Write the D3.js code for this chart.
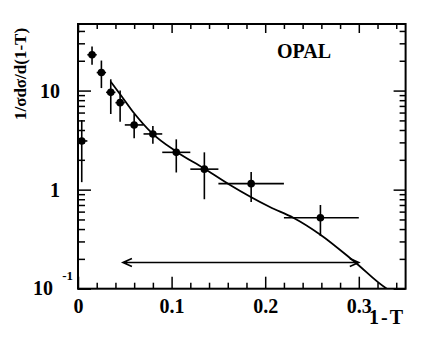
<!DOCTYPE html>
<html>
<head>
<meta charset="utf-8">
<script src="https://cdn.jsdelivr.net/npm/d3@7"></script>
<style>
  body { margin:0; background:#fff; }
  svg text { font-family:"Liberation Serif","Times New Roman",serif; font-weight:bold; fill:#000; }
</style>
</head>
<body>
<svg id="chart" width="425" height="343"></svg>
<script>
// measured points: x, y, bin edges, error limits
const xVal  = [0.004, 0.015, 0.025, 0.035, 0.045, 0.060, 0.080, 0.105, 0.135, 0.185, 0.259];
const xLo   = [0.000, 0.010, 0.020, 0.030, 0.040, 0.050, 0.070, 0.090, 0.120, 0.150, 0.220];
const xHi   = [0.010, 0.020, 0.030, 0.040, 0.050, 0.070, 0.090, 0.120, 0.150, 0.220, 0.300];
const yVal  = [3.1, 23.0, 15.2, 9.6, 7.55, 4.5, 3.65, 2.38, 1.61, 1.15, 0.52];
const yLo   = [1.19, 18.2, 10.6, 5.8, 4.85, 3.3, 2.9, 1.49, 0.80, 0.75, 0.34];
const yHi   = [5.05, 27.9, 20.1, 13.0, 10.0, 5.8, 4.4, 3.22, 2.38, 1.51, 0.70];
// theory curve
const curveX = [0.035, 0.045, 0.060, 0.079, 0.106, 0.134, 0.162, 0.205, 0.230, 0.259, 0.296, 0.330, 0.335];
const curveY = [12.3, 9.2, 5.9, 3.72, 2.39, 1.65, 1.12, 0.668, 0.521, 0.351, 0.185, 0.100, 0.094];
// fit range arrow
const arrowX = [0.048, 0.300];
const arrowY = 0.184;
const xMajor = [0, 0.1, 0.2, 0.3];
const xMinor = d3.range(0.02, 0.35, 0.02).filter(v => Math.abs(v*10 - Math.round(v*10)) > 1e-6);
const yMajor = [0.1, 1, 10];
const yMinor = [2,3,4,5,6,7,8,9].flatMap(m => [m*0.1, m, m*10]).filter(v => v < 47);

const svg = d3.select("#chart");
const L = 78, R = 405.6, T = 24, B = 288.7;
const x = d3.scaleLinear().domain([0, 0.35]).range([L, R]);
const y = d3.scaleLog().domain([0.1, 47]).range([B, T]);

svg.append("defs").append("clipPath").attr("id","plot")
  .append("rect").attr("x",L).attr("y",T).attr("width",R-L).attr("height",B-T);

// axes, ticks inward on all four sides
function styleAxis(g){ g.select(".domain").remove(); g.selectAll("line").attr("stroke","#000").attr("stroke-width",1.5); }
svg.append("g").attr("transform",`translate(0,${B})`)
  .call(d3.axisBottom(x).tickValues(xMajor).tickSize(-12).tickPadding(10).tickFormat(d => d===0 ? "0" : d3.format(".1f")(d)))
  .call(styleAxis).call(g => g.selectAll("text").attr("font-size",20).attr("dy","0.71em"));
svg.append("g").attr("transform",`translate(0,${B})`)
  .call(d3.axisBottom(x).tickValues(xMinor).tickSize(-6).tickFormat(""))
  .call(styleAxis);
svg.append("g").attr("transform",`translate(0,${T})`)
  .call(d3.axisTop(x).tickValues(xMajor).tickSize(-9).tickFormat(""))
  .call(styleAxis);
svg.append("g").attr("transform",`translate(0,${T})`)
  .call(d3.axisTop(x).tickValues(xMinor).tickSize(-5).tickFormat(""))
  .call(styleAxis);
svg.append("g").attr("transform",`translate(${L},0)`)
  .call(d3.axisLeft(y).tickValues(yMajor).tickSize(-13).tickFormat(""))
  .call(styleAxis);
svg.append("g").attr("transform",`translate(${L},0)`)
  .call(d3.axisLeft(y).tickValues(yMinor).tickSize(-7).tickFormat(""))
  .call(styleAxis);
svg.append("g").attr("transform",`translate(${R},0)`)
  .call(d3.axisRight(y).tickValues(yMajor).tickSize(-12).tickFormat(""))
  .call(styleAxis);
svg.append("g").attr("transform",`translate(${R},0)`)
  .call(d3.axisRight(y).tickValues(yMinor).tickSize(-6).tickFormat(""))
  .call(styleAxis);

// y tick labels
svg.append("text").attr("x",60).attr("y",y(10)+7).attr("text-anchor","end").attr("font-size",20).text("10");
svg.append("text").attr("x",60).attr("y",y(1)+7).attr("text-anchor","end").attr("font-size",20).text("1");
svg.append("text").attr("x",53).attr("y",y(0.1)+6).attr("text-anchor","end").attr("font-size",20).text("10");
svg.append("text").attr("x",73).attr("y",y(0.1)-9).attr("text-anchor","end").attr("font-size",13).text("-1");

// frame
svg.append("rect").attr("x",L).attr("y",T).attr("width",R-L).attr("height",B-T)
  .attr("fill","none").attr("stroke","#000").attr("stroke-width",2);

// curve
const line = d3.line().x(i => x(curveX[i])).y(i => y(curveY[i])).curve(d3.curveMonotoneX);
svg.append("path").attr("clip-path","url(#plot)").attr("d", line(d3.range(curveX.length)))
  .attr("fill","none").attr("stroke","#000").attr("stroke-width",1.8);

// data points with error bars
const pts = svg.append("g").attr("stroke","#000").attr("stroke-width",1.6);
xVal.forEach((v,i)=>{
  pts.append("line").attr("x1",x(xLo[i])).attr("x2",x(xHi[i])).attr("y1",y(yVal[i])).attr("y2",y(yVal[i]));
  pts.append("line").attr("x1",x(v)).attr("x2",x(v)).attr("y1",y(yLo[i])).attr("y2",y(yHi[i]));
});
svg.append("g").selectAll("circle").data(xVal).join("circle")
  .attr("cx",d => x(d)).attr("cy",(d,i) => y(yVal[i])).attr("r",3.8).attr("fill","#000");

// arrow
const ay = y(arrowY), a0 = x(arrowX[0]), a1 = x(arrowX[1]);
svg.append("path")
  .attr("d",`M${a0},${ay}H${a1}M${a0+9},${ay-4}L${a0},${ay}L${a0+9},${ay+4}M${a1-9},${ay-4}L${a1},${ay}L${a1-9},${ay+4}`)
  .attr("fill","none").attr("stroke","#000").attr("stroke-width",1.6);

// labels
svg.append("text").attr("x",304).attr("y",58).attr("text-anchor","middle").attr("font-size",20).text("OPAL");
svg.append("text").attr("x",405).attr("y",324).attr("text-anchor","end").attr("font-size",20).attr("letter-spacing",2).text("1-T");
svg.append("text").attr("transform","translate(26,74) rotate(-90)").attr("text-anchor","middle").attr("font-size",17).text("1/σdσ/d(1-T)");
</script>
</body>
</html>
